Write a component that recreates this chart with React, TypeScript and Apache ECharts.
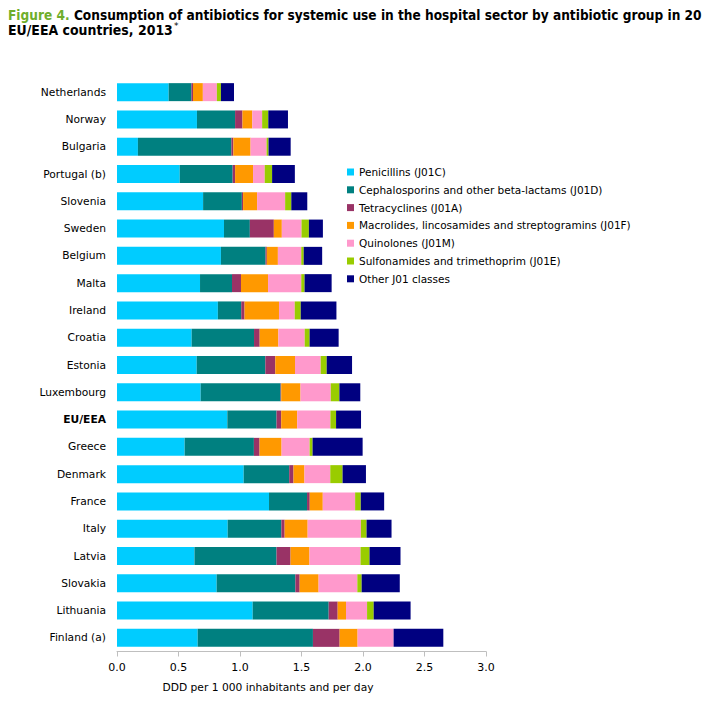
import React, { useEffect, useRef } from "react";
import * as echarts from "echarts";

const categories = [
  "Netherlands", "Norway", "Bulgaria", "Portugal (b)", "Slovenia", "Sweden", "Belgium",
  "Malta", "Ireland", "Croatia", "Estonia", "Luxembourg", "EU/EEA", "Greece", "Denmark",
  "France", "Italy", "Latvia", "Slovakia", "Lithuania", "Finland (a)",
];

const penicillins = [0.42, 0.65, 0.17, 0.51, 0.70, 0.87, 0.845, 0.675, 0.82, 0.607, 0.648, 0.68, 0.897, 0.55, 1.03, 1.236, 0.90, 0.63, 0.81, 1.103, 0.656];
const cephalosporins = [0.185, 0.31, 0.76, 0.43, 0.315, 0.21, 0.363, 0.26, 0.19, 0.507, 0.558, 0.65, 0.40, 0.563, 0.37, 0.309, 0.436, 0.667, 0.64, 0.618, 0.937];
const tetracyclines = [0.013, 0.06, 0.016, 0.02, 0.01, 0.195, 0.01, 0.073, 0.027, 0.046, 0.081, 0.005, 0.038, 0.046, 0.035, 0.022, 0.027, 0.114, 0.035, 0.073, 0.217];
const macrolides = [0.08, 0.08, 0.14, 0.146, 0.114, 0.065, 0.09, 0.22, 0.28, 0.152, 0.16, 0.157, 0.13, 0.179, 0.089, 0.106, 0.187, 0.154, 0.154, 0.068, 0.146];
const quinolones = [0.114, 0.08, 0.13, 0.095, 0.228, 0.16, 0.19, 0.27, 0.128, 0.214, 0.209, 0.246, 0.27, 0.228, 0.21, 0.263, 0.433, 0.415, 0.315, 0.171, 0.293];
const sulfonamides = [0.033, 0.05, 0.016, 0.06, 0.05, 0.06, 0.02, 0.027, 0.049, 0.04, 0.049, 0.07, 0.046, 0.024, 0.1, 0.046, 0.046, 0.073, 0.035, 0.054, 0];
const otherJ01 = [0.106, 0.16, 0.18, 0.185, 0.13, 0.114, 0.15, 0.22, 0.29, 0.236, 0.206, 0.17, 0.203, 0.407, 0.19, 0.19, 0.203, 0.252, 0.31, 0.30, 0.404];

const seriesNames = [
  "Penicillins (J01C)",
  "Cephalosporins and other beta-lactams (J01D)",
  "Tetracyclines (J01A)",
  "Macrolides, lincosamides and streptogramins (J01F)",
  "Quinolones (J01M)",
  "Sulfonamides and trimethoprim (J01E)",
  "Other J01 classes",
];
const seriesData = [penicillins, cephalosporins, tetracyclines, macrolides, quinolones, sulfonamides, otherJ01];
const colors = ["#00CCFF", "#008080", "#993366", "#FF9900", "#FF99CC", "#99CC00", "#000080"];

const xTicks = [0, 0.5, 1.0, 1.5, 2.0, 2.5, 3.0];

const FONT = "'DejaVu Sans', Verdana, sans-serif";

export default function App() {
  const ref = useRef<HTMLDivElement>(null);
  useEffect(() => {
    if (!ref.current) return;
    const chart = echarts.init(ref.current, null, { renderer: "svg" });
    chart.setOption({
      animation: false,
      backgroundColor: "#ffffff",
      grid: { left: 117, right: 242, top: 78.5, bottom: 50.5, containLabel: false },
      legend: {
        orient: "vertical",
        left: 347,
        top: 165,
        padding: 0,
        itemWidth: 7,
        itemHeight: 7,
        itemGap: 3.8,
        icon: "rect",
        data: seriesNames,
        textStyle: { fontFamily: FONT, fontSize: 10.5, color: "#000", lineHeight: 14 },
      },
      xAxis: {
        type: "value",
        min: xTicks[0],
        max: xTicks[xTicks.length - 1],
        interval: 0.5,
        splitLine: { show: false },
        axisLine: { show: true, lineStyle: { color: "#bfbfbf" } },
        axisTick: { show: true, length: 5, lineStyle: { color: "#bfbfbf" } },
        axisLabel: {
          fontFamily: FONT,
          fontSize: 11,
          color: "#000",
          margin: 10,
          formatter: (v: number) => v.toFixed(1),
        },
      },
      yAxis: {
        type: "category",
        inverse: true,
        data: categories,
        axisLine: { show: false },
        axisTick: { show: false },
        axisLabel: {
          fontFamily: FONT,
          fontSize: 10.7,
          color: "#000",
          margin: 11,
          formatter: (v: string) => (v === "EU/EEA" ? `{b|${v}}` : v),
          rich: { b: { fontFamily: FONT, fontSize: 10.7, fontWeight: "bold", color: "#000" } },
        },
      },
      series: seriesNames.map((name, i) => ({
        name,
        type: "bar",
        stack: "total",
        barWidth: 18,
        data: seriesData[i],
        itemStyle: { color: colors[i] },
      })),
      graphic: [
        {
          type: "text",
          x: 8,
          y: 8,
          scaleX: 0.872,
          style: {
            text: "{g|Figure 4.} Consumption of antibiotics for systemic use in the hospital sector by antibiotic group in 20",
            fontFamily: FONT,
            fontSize: 14,
            fontWeight: "bold",
            fill: "#000",
            verticalAlign: "top",
            rich: {
              g: { fontFamily: FONT, fontSize: 14, fontWeight: "bold", fill: "#6fae2b" },
            },
          },
        },
        {
          type: "text",
          x: 8,
          y: 23.5,
          scaleX: 0.896,
          style: {
            text: "EU/EEA countries, 2013",
            fontFamily: FONT,
            fontSize: 14,
            fontWeight: "bold",
            fill: "#000",
            verticalAlign: "top",
          },
        },
        {
          type: "text",
          x: 174,
          y: 21.5,
          z: 100,
          style: {
            text: "*",
            fontFamily: FONT,
            fontSize: 9,
            fill: "#000",
            align: "left",
            verticalAlign: "top",
          },
        },
        {
          type: "text",
          x: 268,
          y: 687,
          style: {
            text: "DDD per 1 000 inhabitants and per day",
            fontFamily: FONT,
            fontSize: 10.7,
            fill: "#000",
            align: "center",
            verticalAlign: "middle",
          },
        },
      ],
    });
    return () => chart.dispose();
  }, []);
  return <div ref={ref} style={{ position: "fixed", left: 0, top: 0, width: 728, height: 702 }} />;
}
